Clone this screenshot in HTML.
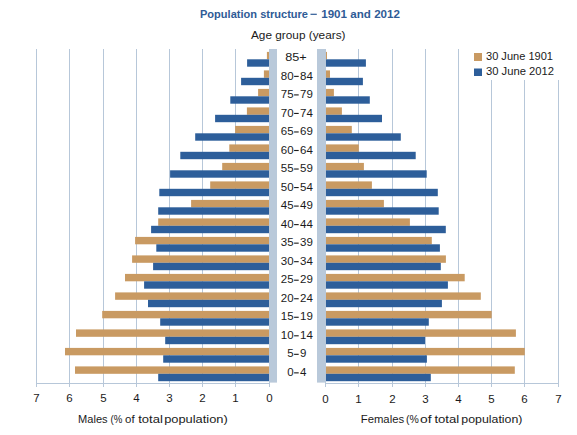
<!DOCTYPE html>
<html><head><meta charset="utf-8"><style>
html,body{margin:0;padding:0;background:#fff;width:577px;height:435px;overflow:hidden}
svg{display:block}
.t{font-family:"Liberation Sans",sans-serif;font-size:11.5px;fill:#1a1a1a}
.ti{font-family:"Liberation Sans",sans-serif;font-size:11.5px;font-weight:bold;fill:#2f5b96}
</style></head><body>
<svg width="577" height="435" viewBox="0 0 577 435">
<rect x="36" y="49" width="1" height="338" fill="#b7c7d9"/>
<rect x="69" y="49" width="1" height="338" fill="#b7c7d9"/>
<rect x="103" y="49" width="1" height="338" fill="#b7c7d9"/>
<rect x="136" y="49" width="1" height="338" fill="#b7c7d9"/>
<rect x="169" y="49" width="1" height="338" fill="#b7c7d9"/>
<rect x="202" y="49" width="1" height="338" fill="#b7c7d9"/>
<rect x="235" y="49" width="1" height="338" fill="#b7c7d9"/>
<rect x="358" y="49" width="1" height="338" fill="#b7c7d9"/>
<rect x="392" y="49" width="1" height="338" fill="#b7c7d9"/>
<rect x="425" y="49" width="1" height="338" fill="#b7c7d9"/>
<rect x="458" y="49" width="1" height="338" fill="#b7c7d9"/>
<rect x="491" y="49" width="1" height="338" fill="#b7c7d9"/>
<rect x="524" y="49" width="1" height="338" fill="#b7c7d9"/>
<rect x="558" y="49" width="1" height="338" fill="#b7c7d9"/>
<rect x="269" y="49" width="1" height="338" fill="#b7c7d9"/>
<rect x="325" y="49" width="1" height="338" fill="#b7c7d9"/>
<rect x="36" y="383" width="234" height="1" fill="#b7c7d9"/>
<rect x="325" y="383" width="234" height="1" fill="#b7c7d9"/>
<rect x="269.5" y="49" width="7.5" height="333.6" fill="#b9c9da"/>
<rect x="317" y="49" width="8.5" height="333.6" fill="#b9c9da"/>
<rect x="266.9" y="51.90" width="2.10" height="7.4" fill="#c99a62"/>
<rect x="247.1" y="59.30" width="21.90" height="7.4" fill="#2d5e9a"/>
<rect x="326.0" y="51.90" width="1.00" height="7.4" fill="#c99a62"/>
<rect x="326.0" y="59.30" width="39.90" height="7.4" fill="#2d5e9a"/>
<rect x="263.9" y="70.40" width="5.10" height="7.4" fill="#c99a62"/>
<rect x="241.1" y="77.80" width="27.90" height="7.4" fill="#2d5e9a"/>
<rect x="326.0" y="70.40" width="4.00" height="7.4" fill="#c99a62"/>
<rect x="326.0" y="77.80" width="36.90" height="7.4" fill="#2d5e9a"/>
<rect x="258.1" y="88.90" width="10.90" height="7.4" fill="#c99a62"/>
<rect x="230.3" y="96.30" width="38.70" height="7.4" fill="#2d5e9a"/>
<rect x="326.0" y="88.90" width="7.90" height="7.4" fill="#c99a62"/>
<rect x="326.0" y="96.30" width="43.80" height="7.4" fill="#2d5e9a"/>
<rect x="246.9" y="107.40" width="22.10" height="7.4" fill="#c99a62"/>
<rect x="215.1" y="114.80" width="53.90" height="7.4" fill="#2d5e9a"/>
<rect x="326.0" y="107.40" width="15.90" height="7.4" fill="#c99a62"/>
<rect x="326.0" y="114.80" width="56.00" height="7.4" fill="#2d5e9a"/>
<rect x="235.1" y="125.90" width="33.90" height="7.4" fill="#c99a62"/>
<rect x="195.2" y="133.30" width="73.80" height="7.4" fill="#2d5e9a"/>
<rect x="326.0" y="125.90" width="25.80" height="7.4" fill="#c99a62"/>
<rect x="326.0" y="133.30" width="74.80" height="7.4" fill="#2d5e9a"/>
<rect x="229.3" y="144.40" width="39.70" height="7.4" fill="#c99a62"/>
<rect x="180.3" y="151.80" width="88.70" height="7.4" fill="#2d5e9a"/>
<rect x="326.0" y="144.40" width="32.80" height="7.4" fill="#c99a62"/>
<rect x="326.0" y="151.80" width="89.70" height="7.4" fill="#2d5e9a"/>
<rect x="222.2" y="162.90" width="46.80" height="7.4" fill="#c99a62"/>
<rect x="170.1" y="170.30" width="98.90" height="7.4" fill="#2d5e9a"/>
<rect x="326.0" y="162.90" width="37.90" height="7.4" fill="#c99a62"/>
<rect x="326.0" y="170.30" width="100.70" height="7.4" fill="#2d5e9a"/>
<rect x="210.2" y="181.40" width="58.80" height="7.4" fill="#c99a62"/>
<rect x="159.3" y="188.80" width="109.70" height="7.4" fill="#2d5e9a"/>
<rect x="326.0" y="181.40" width="45.90" height="7.4" fill="#c99a62"/>
<rect x="326.0" y="188.80" width="111.80" height="7.4" fill="#2d5e9a"/>
<rect x="191.1" y="199.90" width="77.90" height="7.4" fill="#c99a62"/>
<rect x="158.2" y="207.30" width="110.80" height="7.4" fill="#2d5e9a"/>
<rect x="326.0" y="199.90" width="57.90" height="7.4" fill="#c99a62"/>
<rect x="326.0" y="207.30" width="112.70" height="7.4" fill="#2d5e9a"/>
<rect x="158.2" y="218.40" width="110.80" height="7.4" fill="#c99a62"/>
<rect x="151.1" y="225.80" width="117.90" height="7.4" fill="#2d5e9a"/>
<rect x="326.0" y="218.40" width="83.90" height="7.4" fill="#c99a62"/>
<rect x="326.0" y="225.80" width="119.80" height="7.4" fill="#2d5e9a"/>
<rect x="135.1" y="236.90" width="133.90" height="7.4" fill="#c99a62"/>
<rect x="156.3" y="244.30" width="112.70" height="7.4" fill="#2d5e9a"/>
<rect x="326.0" y="236.90" width="105.80" height="7.4" fill="#c99a62"/>
<rect x="326.0" y="244.30" width="113.90" height="7.4" fill="#2d5e9a"/>
<rect x="132.1" y="255.40" width="136.90" height="7.4" fill="#c99a62"/>
<rect x="153.1" y="262.80" width="115.90" height="7.4" fill="#2d5e9a"/>
<rect x="326.0" y="255.40" width="119.90" height="7.4" fill="#c99a62"/>
<rect x="326.0" y="262.80" width="114.80" height="7.4" fill="#2d5e9a"/>
<rect x="125.0" y="273.90" width="144.00" height="7.4" fill="#c99a62"/>
<rect x="144.1" y="281.30" width="124.90" height="7.4" fill="#2d5e9a"/>
<rect x="326.0" y="273.90" width="138.70" height="7.4" fill="#c99a62"/>
<rect x="326.0" y="281.30" width="121.90" height="7.4" fill="#2d5e9a"/>
<rect x="115.1" y="292.40" width="153.90" height="7.4" fill="#c99a62"/>
<rect x="148.0" y="299.80" width="121.00" height="7.4" fill="#2d5e9a"/>
<rect x="326.0" y="292.40" width="154.80" height="7.4" fill="#c99a62"/>
<rect x="326.0" y="299.80" width="115.90" height="7.4" fill="#2d5e9a"/>
<rect x="102.2" y="310.90" width="166.80" height="7.4" fill="#c99a62"/>
<rect x="160.2" y="318.30" width="108.80" height="7.4" fill="#2d5e9a"/>
<rect x="326.0" y="310.90" width="165.70" height="7.4" fill="#c99a62"/>
<rect x="326.0" y="318.30" width="102.80" height="7.4" fill="#2d5e9a"/>
<rect x="76.0" y="329.40" width="193.00" height="7.4" fill="#c99a62"/>
<rect x="165.2" y="336.80" width="103.80" height="7.4" fill="#2d5e9a"/>
<rect x="326.0" y="329.40" width="189.90" height="7.4" fill="#c99a62"/>
<rect x="326.0" y="336.80" width="99.00" height="7.4" fill="#2d5e9a"/>
<rect x="65.0" y="347.90" width="204.00" height="7.4" fill="#c99a62"/>
<rect x="163.2" y="355.30" width="105.80" height="7.4" fill="#2d5e9a"/>
<rect x="326.0" y="347.90" width="198.80" height="7.4" fill="#c99a62"/>
<rect x="326.0" y="355.30" width="100.90" height="7.4" fill="#2d5e9a"/>
<rect x="75.0" y="366.40" width="194.00" height="7.4" fill="#c99a62"/>
<rect x="158.2" y="373.80" width="110.80" height="7.4" fill="#2d5e9a"/>
<rect x="326.0" y="366.40" width="188.80" height="7.4" fill="#c99a62"/>
<rect x="326.0" y="373.80" width="104.80" height="7.4" fill="#2d5e9a"/>
<text x="285.15" y="61.00" class="t" textLength="21.48" lengthAdjust="spacingAndGlyphs">85+</text>
<text x="293.6" y="79.53" text-anchor="end" class="t">80</text>
<rect x="294.1" y="75.83" width="4.6" height="1.1" fill="#1a1a1a"/>
<text x="300.1" y="79.53" class="t">84</text>
<text x="293.6" y="98.06" text-anchor="end" class="t">75</text>
<rect x="294.1" y="94.36" width="4.6" height="1.1" fill="#1a1a1a"/>
<text x="300.1" y="98.06" class="t">79</text>
<text x="293.6" y="116.59" text-anchor="end" class="t">70</text>
<rect x="294.1" y="112.89" width="4.6" height="1.1" fill="#1a1a1a"/>
<text x="300.1" y="116.59" class="t">74</text>
<text x="293.6" y="135.12" text-anchor="end" class="t">65</text>
<rect x="294.1" y="131.42" width="4.6" height="1.1" fill="#1a1a1a"/>
<text x="300.1" y="135.12" class="t">69</text>
<text x="293.6" y="153.65" text-anchor="end" class="t">60</text>
<rect x="294.1" y="149.95" width="4.6" height="1.1" fill="#1a1a1a"/>
<text x="300.1" y="153.65" class="t">64</text>
<text x="293.6" y="172.18" text-anchor="end" class="t">55</text>
<rect x="294.1" y="168.48" width="4.6" height="1.1" fill="#1a1a1a"/>
<text x="300.1" y="172.18" class="t">59</text>
<text x="293.6" y="190.71" text-anchor="end" class="t">50</text>
<rect x="294.1" y="187.01" width="4.6" height="1.1" fill="#1a1a1a"/>
<text x="300.1" y="190.71" class="t">54</text>
<text x="293.6" y="209.24" text-anchor="end" class="t">45</text>
<rect x="294.1" y="205.54" width="4.6" height="1.1" fill="#1a1a1a"/>
<text x="300.1" y="209.24" class="t">49</text>
<text x="293.6" y="227.77" text-anchor="end" class="t">40</text>
<rect x="294.1" y="224.07" width="4.6" height="1.1" fill="#1a1a1a"/>
<text x="300.1" y="227.77" class="t">44</text>
<text x="293.6" y="246.30" text-anchor="end" class="t">35</text>
<rect x="294.1" y="242.60" width="4.6" height="1.1" fill="#1a1a1a"/>
<text x="300.1" y="246.30" class="t">39</text>
<text x="293.6" y="264.83" text-anchor="end" class="t">30</text>
<rect x="294.1" y="261.13" width="4.6" height="1.1" fill="#1a1a1a"/>
<text x="300.1" y="264.83" class="t">34</text>
<text x="293.6" y="283.36" text-anchor="end" class="t">25</text>
<rect x="294.1" y="279.66" width="4.6" height="1.1" fill="#1a1a1a"/>
<text x="300.1" y="283.36" class="t">29</text>
<text x="293.6" y="301.89" text-anchor="end" class="t">20</text>
<rect x="294.1" y="298.19" width="4.6" height="1.1" fill="#1a1a1a"/>
<text x="300.1" y="301.89" class="t">24</text>
<text x="293.6" y="320.42" text-anchor="end" class="t">15</text>
<rect x="294.1" y="316.72" width="4.6" height="1.1" fill="#1a1a1a"/>
<text x="300.1" y="320.42" class="t">19</text>
<text x="293.6" y="338.95" text-anchor="end" class="t">10</text>
<rect x="294.1" y="335.25" width="4.6" height="1.1" fill="#1a1a1a"/>
<text x="300.1" y="338.95" class="t">14</text>
<text x="293.6" y="357.48" text-anchor="end" class="t">5</text>
<rect x="294.1" y="353.78" width="4.6" height="1.1" fill="#1a1a1a"/>
<text x="300.1" y="357.48" class="t">9</text>
<text x="293.6" y="376.01" text-anchor="end" class="t">0</text>
<rect x="294.1" y="372.31" width="4.6" height="1.1" fill="#1a1a1a"/>
<text x="300.1" y="376.01" class="t">4</text>
<text x="269.5" y="402" text-anchor="middle" class="t">0</text>
<text x="325.5" y="403" text-anchor="middle" class="t">0</text>
<text x="235.5" y="402" text-anchor="middle" class="t">1</text>
<text x="358.5" y="403" text-anchor="middle" class="t">1</text>
<text x="202.5" y="402" text-anchor="middle" class="t">2</text>
<text x="392.5" y="403" text-anchor="middle" class="t">2</text>
<text x="169.5" y="402" text-anchor="middle" class="t">3</text>
<text x="425.5" y="403" text-anchor="middle" class="t">3</text>
<text x="136.5" y="402" text-anchor="middle" class="t">4</text>
<text x="458.5" y="403" text-anchor="middle" class="t">4</text>
<text x="103.5" y="402" text-anchor="middle" class="t">5</text>
<text x="491.5" y="403" text-anchor="middle" class="t">5</text>
<text x="69.5" y="402" text-anchor="middle" class="t">6</text>
<text x="524.5" y="403" text-anchor="middle" class="t">6</text>
<text x="36.5" y="402" text-anchor="middle" class="t">7</text>
<text x="558.5" y="403" text-anchor="middle" class="t">7</text>
<rect x="460" y="49" width="110" height="31" fill="#fff"/>
<rect x="474" y="53" width="8" height="8" fill="#c99a62"/>
<rect x="474" y="68.5" width="8" height="7.5" fill="#2d5e9a"/>
<text x="486" y="59.6" class="t" textLength="67" lengthAdjust="spacingAndGlyphs">30 June 1901</text>
<text x="486" y="74.8" class="t" textLength="68" lengthAdjust="spacingAndGlyphs">30 June 2012</text>
<text x="200" y="18" class="ti" textLength="108" lengthAdjust="spacingAndGlyphs">Population structure</text>
<rect x="310.5" y="13.7" width="6.3" height="1.2" fill="#2f5b96"/>
<text x="321.2" y="18" class="ti" textLength="78.8" lengthAdjust="spacingAndGlyphs">1901 and 2012</text>
<text x="251" y="39" class="t" textLength="94.5" lengthAdjust="spacingAndGlyphs">Age group (years)</text>
<text x="78.1" y="422.8" class="t" textLength="29.49" lengthAdjust="spacingAndGlyphs">Males</text>
<text x="110.5" y="422.8" class="t" textLength="11.84" lengthAdjust="spacingAndGlyphs">(%</text>
<text x="125.12" y="422.8" class="t" textLength="9.56" lengthAdjust="spacingAndGlyphs">of</text>
<text x="138.21" y="422.8" class="t" textLength="24.66" lengthAdjust="spacingAndGlyphs">total</text>
<text x="164.17" y="422.8" class="t" textLength="63.62" lengthAdjust="spacingAndGlyphs">population)</text>
<text x="360.78" y="422.8" class="t" textLength="43.32" lengthAdjust="spacingAndGlyphs">Females</text>
<text x="405.95" y="422.8" class="t" textLength="12.82" lengthAdjust="spacingAndGlyphs">(%</text>
<text x="420.02" y="422.8" class="t" textLength="11.56" lengthAdjust="spacingAndGlyphs">of</text>
<text x="434.41" y="422.8" class="t" textLength="24.87" lengthAdjust="spacingAndGlyphs">total</text>
<text x="461.3" y="422.8" class="t" textLength="61.15" lengthAdjust="spacingAndGlyphs">population)</text>
</svg>
</body></html>
